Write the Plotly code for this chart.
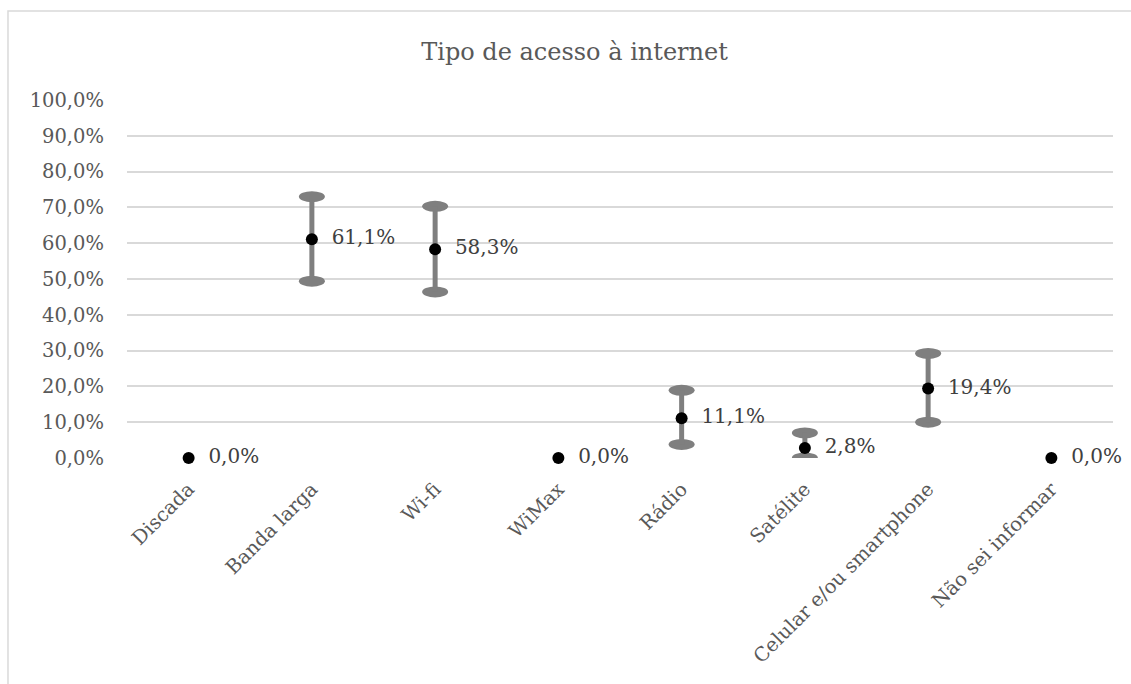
import plotly.graph_objects as go

categories = ["Discada", "Banda larga", "Wi-fi", "WiMax", "Rádio", "Satélite",
              "Celular e/ou smartphone", "Não sei informar"]
values = [0.0, 61.1, 58.3, 0.0, 11.1, 2.8, 19.4, 0.0]
err_plus = [0.0, 11.9, 12.0, 0.0, 7.8, 4.2, 9.8, 0.0]
err_minus = [0.0, 11.7, 11.9, 0.0, 7.3, 2.8, 9.4, 0.0]
labels = ["0,0%", "61,1%", "58,3%", "0,0%", "11,1%", "2,8%", "19,4%", "0,0%"]
y_ticks = [0, 10, 20, 30, 40, 50, 60, 70, 80, 90, 100]
y_ticktext = ["0,0%", "10,0%", "20,0%", "30,0%", "40,0%", "50,0%",
              "60,0%", "70,0%", "80,0%", "90,0%", "100,0%"]

FONT = "DejaVu Serif"
GRAY = "#7f7f7f"

fig = go.Figure()
# error bars + markers
fig.add_trace(go.Scatter(
    x=categories, y=values, mode="markers",
    marker=dict(color="black", size=12),
    error_y=dict(type="data", symmetric=False, array=err_plus, arrayminus=err_minus,
                 color=GRAY, thickness=5, width=0),
    cliponaxis=False, showlegend=False, hoverinfo="skip",
))
# data labels
fig.add_trace(go.Scatter(
    x=categories, y=values, mode="text+markers",
    marker=dict(size=30, opacity=0),
    text=labels, textposition="middle right",
    textfont=dict(family=FONT, size=20, color="#404040"),
    cliponaxis=False, showlegend=False, hoverinfo="skip",
))

# oval caps of the error bars
shapes = []
for i, (v, p, m) in enumerate(zip(values, err_plus, err_minus)):
    if p == 0 and m == 0:
        continue
    for yv in (v + p, v - m):
        shapes.append(dict(type="circle", xref="x", yref="y",
                           xsizemode="pixel", ysizemode="pixel",
                           xanchor=i, yanchor=yv, x0=-13, x1=13, y0=-5.5, y1=5.5,
                           fillcolor=GRAY, line=dict(width=0), layer="between"))
# chart frame
shapes.append(dict(type="rect", xref="paper", yref="paper",
                   x0=-0.1207, x1=1.5, y0=-2, y1=1.2486,
                   line=dict(color="#d9d9d9", width=1.5), fillcolor="rgba(0,0,0,0)",
                   layer="below"))

fig.update_layout(
    width=1131, height=684,
    margin=dict(l=127, r=18, t=100, b=226),
    paper_bgcolor="white", plot_bgcolor="white",
    title=dict(text="Tipo de acesso à internet", x=0.508, xref="container",
               xanchor="center", y=0.925, yanchor="middle", yref="container",
               font=dict(family=FONT, size=24, color="#595959")),
    shapes=shapes,
    xaxis=dict(type="category", tickangle=-45, showgrid=False, zeroline=False,
               showline=False, ticks="", range=[-0.5, 7.5], ticklabelstandoff=15,
               tickfont=dict(family=FONT, size=19.5, color="#595959")),
    yaxis=dict(range=[0, 100], tickvals=y_ticks, ticktext=y_ticktext,
               showgrid=True, gridcolor="#d9d9d9", gridwidth=1.5, zeroline=False,
               showline=False, ticks="", ticklabelstandoff=22,
               tickfont=dict(family=FONT, size=19.5, color="#595959")),
)
fig.write_html("out.html", config={"displayModeBar": False},
               post_script="document.body.style.margin='0';")
